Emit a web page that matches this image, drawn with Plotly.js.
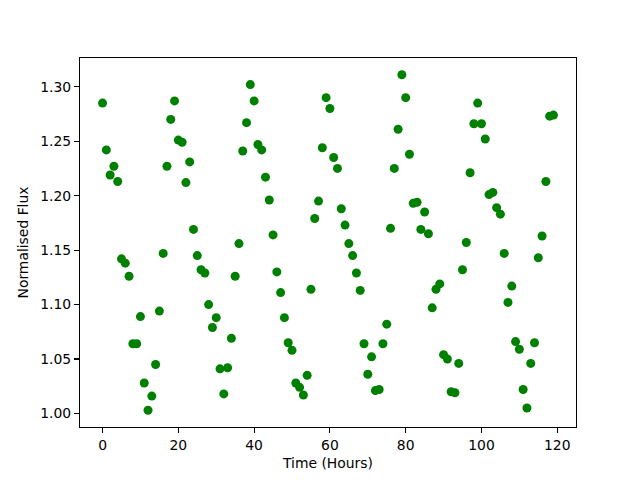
<!DOCTYPE html>
<html>
<head>
<meta charset="utf-8">
<script src="https://cdn.plot.ly/plotly-3.0.1.min.js"></script>
<style>html,body{margin:0;padding:0;background:#fff;}#chart{width:640px;height:480px;}</style>
</head>
<body>
<div id="chart"></div>
<script>
const timeHours = [
  0,1,2,3,4,5,6,7,8,9,10,11,12,13,14,15,16,17,18,19,
  20,21,22,23,24,25,26,27,28,29,30,31,32,33,34,35,36,37,38,39,
  40,41,42,43,44,45,46,47,48,49,50,51,52,53,54,55,56,57,58,59,
  60,61,62,63,64,65,66,67,68,69,70,71,72,73,74,75,76,77,78,79,
  80,81,82,83,84,85,86,87,88,89,90,91,92,93,94,95,96,97,98,99,
  100,101,102,103,104,105,106,107,108,109,110,111,112,113,114,115,116,117,118,119
];
const normalisedFlux = [
  1.285,1.242,1.219,1.227,1.213,1.142,1.138,1.126,1.064,1.064,
  1.089,1.028,1.003,1.016,1.045,1.094,1.147,1.227,1.270,1.287,
  1.251,1.249,1.212,1.231,1.169,1.145,1.132,1.129,1.100,1.079,
  1.088,1.041,1.018,1.042,1.069,1.126,1.156,1.241,1.267,1.302,
  1.287,1.247,1.242,1.217,1.196,1.164,1.130,1.111,1.088,1.065,
  1.058,1.028,1.024,1.017,1.035,1.114,1.179,1.195,1.244,1.290,
  1.280,1.235,1.225,1.188,1.173,1.156,1.145,1.129,1.113,1.064,
  1.036,1.052,1.021,1.022,1.064,1.082,1.170,1.225,1.261,1.311,
  1.290,1.238,1.193,1.194,1.169,1.185,1.165,1.097,1.114,1.119,
  1.054,1.050,1.020,1.019,1.046,1.132,1.157,1.221,1.266,1.285,
  1.266,1.252,1.201,1.203,1.189,1.183,1.147,1.102,1.117,1.066,
  1.059,1.022,1.005,1.046,1.065,1.143,1.163,1.213,1.273,1.274
];
const xTitle = "Time (Hours)";
const yTitle = "Normalised Flux";

function padRange(arr){
  const mn = Math.min(...arr), mx = Math.max(...arr);
  const m = (mx - mn) * 0.05;
  return [mn - m, mx + m];
}

const font = {family: "DejaVu Sans", size: 13.9, color: "#000"};
const axisCommon = {
  showline: true, mirror: true, linecolor: "#000", linewidth: 1.1,
  ticks: "outside", ticklen: 4.9, tickwidth: 1.1, tickcolor: "#000",
  showgrid: false, zeroline: false, tickfont: font
};

Plotly.newPlot("chart", [{
  x: timeHours, y: normalisedFlux, type: "scatter", mode: "markers",
  marker: {color: "#008000", size: 9, line: {width: 0}}
}], {
  width: 640, height: 480,
  margin: {l: 80, r: 64, t: 58, b: 53, pad: 0},
  paper_bgcolor: "#fff", plot_bgcolor: "#fff",
  showlegend: false,
  font: font,
  xaxis: Object.assign({}, axisCommon, {
    range: padRange(timeHours), dtick: 20, tick0: 0,
    title: {text: xTitle, font: font, standoff: 6}
  }),
  yaxis: Object.assign({}, axisCommon, {
    range: padRange(normalisedFlux), dtick: 0.05, tick0: 1.0, tickformat: ".2f",
    title: {text: yTitle, font: font, standoff: 8}
  })
}, {displayModeBar: false, staticPlot: true});
</script>
</body>
</html>
